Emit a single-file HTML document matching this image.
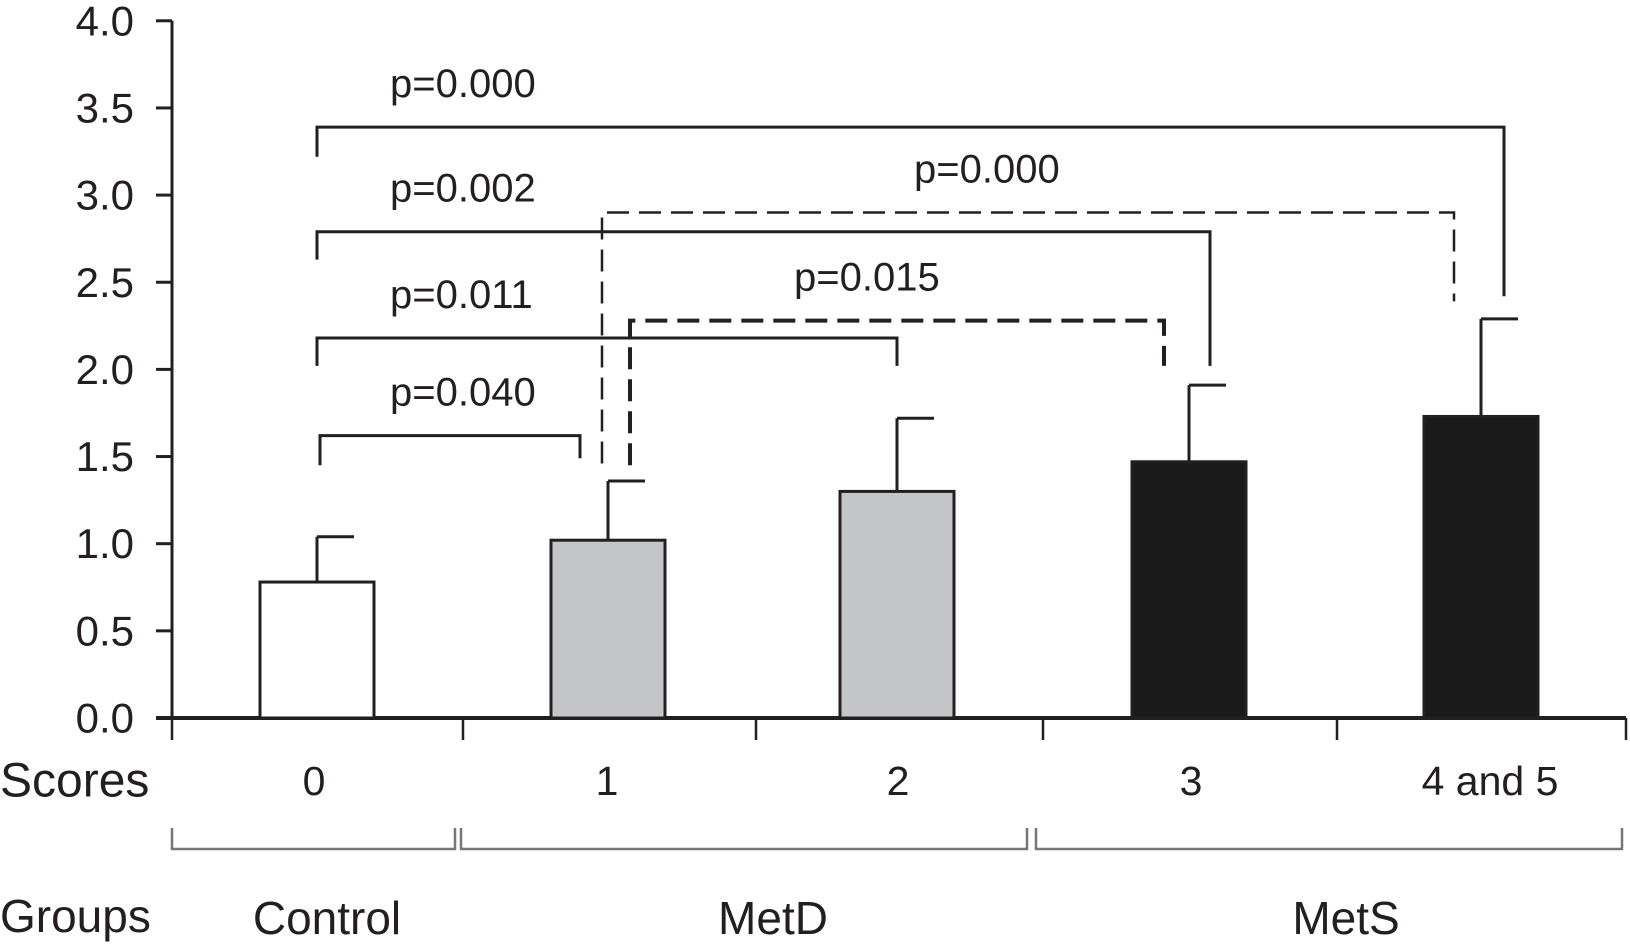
<!DOCTYPE html>
<html><head><meta charset="utf-8"><style>
html,body{margin:0;padding:0;background:#fff;}
svg{display:block;font-family:"Liberation Sans",Arial,sans-serif;}
</style></head><body>
<svg id="chart" width="1630" height="946" viewBox="0 0 1630 946">
<g id="axes"></g>
<g id="bars"></g>
<g id="sig"></g>
<g id="groups"></g>
</svg>
<script>
const categories = ["0", "1", "2", "3", "4 and 5"];
const means = [0.78, 1.02, 1.30, 1.47, 1.73];
const errTops = [1.04, 1.36, 1.72, 1.91, 2.29];
const fills = ["#ffffff", "#c4c5c7", "#c4c5c7", "#1a1a1a", "#1a1a1a"];
const yTicks = ["0.0","0.5","1.0","1.5","2.0","2.5","3.0","3.5","4.0"];
const groupNames = ["Control", "MetD", "MetS"];
const pLabels = ["p=0.000","p=0.002","p=0.011","p=0.040","p=0.000","p=0.015"];
const pLevels = [3.39, 2.79, 2.18, 1.62, 2.90, 2.28];

const NS = "http://www.w3.org/2000/svg";
const X0 = 172, X1 = 1626, Y0 = 718, PER = 174.3;
const y = v => Y0 - v * PER;
const center = i => [317, 608, 897, 1189, 1481][i];
const barW = 114;
function mk(tag, attrs, parent) {
  const e = document.createElementNS(NS, tag);
  for (const k in attrs) e.setAttribute(k, attrs[k]);
  parent.appendChild(e);
  return e;
}
const axes = document.getElementById('axes');
const bars = document.getElementById('bars');
const sig = document.getElementById('sig');
const groups = document.getElementById('groups');
const ink = "#231f20";

let yl = mk('line', {x1:X0, y1:y(4), x2:X0, y2:Y0, stroke:ink, 'stroke-width':3}, axes);


yTicks.forEach(t => {
  const v = parseFloat(t);
  const tk = mk('line', {x1:X0-16, y1:y(v), x2:X0, y2:y(v), stroke:ink, 'stroke-width':3}, axes);
  
  
  const tx = mk('text', {x:X0-38, y:y(v), 'text-anchor':'end', 'dominant-baseline':'central', 'font-size':42, fill:ink}, axes);
  tx.textContent = t;
  
  
});
let xl = mk('line', {x1:156, y1:Y0, x2:X1, y2:Y0, stroke:ink, 'stroke-width':4}, axes);


[172, 463, 756, 1043, 1337, 1626].forEach(px => {
  const tk = mk('line', {x1:px, y1:Y0, x2:px, y2:Y0+22, stroke:ink, 'stroke-width':2.5}, axes);
  
  
});
let sc = mk('text', {x:0, y:781, 'dominant-baseline':'central', 'font-size':48, fill:ink}, axes);
sc.textContent = "Scores";


const labShift = [0, 2, 4, 5, 12];
categories.forEach((c, i) => {
  const tx = mk('text', {x:center(i)+labShift[i]-3, y:781, 'text-anchor':'middle', 'dominant-baseline':'central', 'font-size':41, fill:ink}, axes);
  tx.textContent = c;
  
  
});

means.forEach((m, i) => {
  const cx = center(i);
  const er = mk('line', {x1:cx, y1:y(m), x2:cx, y2:y(errTops[i]), stroke:ink, 'stroke-width':3}, bars);
  
  
  const cap = mk('line', {x1:cx, y1:y(errTops[i]), x2:cx+37, y2:y(errTops[i]), stroke:ink, 'stroke-width':3}, bars);
  
  
  const r = mk('rect', {x:cx-barW/2, y:y(m), width:barW, height:Y0-y(m), fill:fills[i], stroke:ink, 'stroke-width':3}, bars);
  
  
});

const brGeom = [
  [317, 1504, 3.22, 2.42, false, 390],
  [317, 1210, 2.63, 2.02, false, 390],
  [317, 897, 2.02, 2.02, false, 390],
  [320, 580, 1.45, 1.49, false, 390],
  [602, 1454, 1.46, 2.39, true, 914],
  [630, 1164, 1.45, 2.02, true, 794]
];
brGeom.forEach((g, i) => {
  const lv = pLevels[i];
  const p = mk('path', {d:`M${g[0]},${y(g[2])} V${y(lv)} H${g[1]} V${y(g[3])}`, fill:'none', stroke:ink, 'stroke-width':g[4]?(i===5?4:2.5):3, 'stroke-dasharray':g[4]?'22 10':'none'}, sig);
  
  
  const t = mk('text', {x:g[5], y:y(lv)-43, 'dominant-baseline':'central', 'font-size':40, fill:ink}, sig);
  t.textContent = pLabels[i];
  
  
});

const gSeg = [[172,455],[461,1027],[1036,1622]];
const gLab = [327, 773, 1346];
gSeg.forEach((s, i) => {
  const p = mk('path', {d:`M${s[0]},828 V849 H${s[1]} V828`, fill:'none', stroke:'#777', 'stroke-width':2.5}, groups);
  
  
  const t = mk('text', {x:gLab[i], y:918, 'text-anchor':'middle', 'dominant-baseline':'central', 'font-size':46, fill:ink}, groups);
  t.textContent = groupNames[i];
  
  
});
let gt = mk('text', {x:0, y:916, 'dominant-baseline':'central', 'font-size':46, fill:ink}, groups);
gt.textContent = "Groups";


</script>
</body></html>
